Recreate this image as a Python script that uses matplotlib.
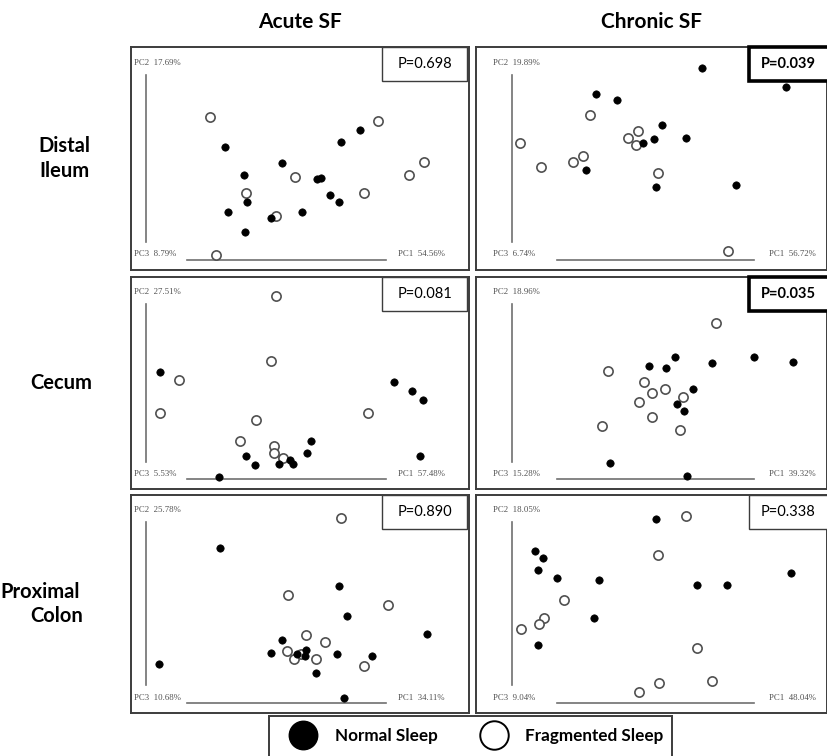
import numpy as np
import matplotlib
matplotlib.use('Agg')
import matplotlib.pyplot as plt
from matplotlib.patches import Rectangle
from matplotlib.lines import Line2D

# PCoA scores, in panel units (0-100 across / up)
# Acute SF - Distal Ileum
ai_norm_x = [27.9, 44.7, 62.1, 67.7, 33.4, 54.9, 56.3, 58.9, 61.6, 34.2, 28.8, 50.5, 41.5, 33.8]
ai_norm_y = [55.0, 48.2, 57.5, 62.9, 42.8, 40.7, 41.4, 33.5, 30.6, 30.5, 25.8, 25.8, 23.4, 17.1]
ai_frag_x = [23.4, 73.2, 86.7, 82.2, 48.4, 34.1, 69.0, 42.9, 25.1]
ai_frag_y = [68.8, 67.0, 48.5, 42.5, 41.6, 34.5, 34.4, 24.0, 6.8]
# Chronic SF - Distal Ileum
ci_norm_x = [64.5, 88.3, 34.2, 40.2, 53.1, 50.6, 47.5, 59.8, 31.3, 51.2, 74.2]
ci_norm_y = [90.7, 82.1, 78.7, 76.1, 65.2, 58.6, 56.9, 59.1, 44.9, 37.3, 38.0]
ci_frag_x = [32.5, 46.1, 43.3, 45.7, 12.5, 30.5, 27.5, 18.4, 51.8, 71.9]
ci_frag_y = [69.5, 62.3, 59.3, 55.9, 56.8, 51.0, 48.3, 46.3, 43.4, 8.7]
# Acute SF - Cecum
ac_norm_x = [8.7, 77.9, 83.0, 86.5, 85.6, 53.2, 52.1, 34.1, 36.8, 43.9, 47.1, 47.8, 26.1]
ac_norm_y = [55.1, 50.7, 46.2, 41.8, 15.6, 22.5, 17.0, 15.6, 11.3, 11.6, 13.5, 11.6, 5.8]
ac_frag_x = [42.8, 41.5, 14.1, 8.7, 36.9, 70.2, 32.3, 42.4, 42.3, 45.0]
ac_frag_y = [90.9, 60.6, 51.5, 35.8, 32.4, 35.8, 22.7, 20.2, 16.8, 14.7]
# Chronic SF - Cecum
cc_norm_x = [56.6, 49.3, 54.0, 67.3, 79.3, 90.4, 61.8, 57.3, 59.3, 38.2, 60.2]
cc_norm_y = [62.3, 58.1, 57.3, 59.6, 62.4, 59.8, 47.1, 39.9, 36.6, 12.5, 6.0]
cc_frag_x = [68.5, 37.6, 47.9, 50.1, 53.8, 59.0, 46.4, 50.2, 35.8, 58.1]
cc_frag_y = [78.1, 55.5, 50.7, 45.4, 47.1, 43.3, 41.0, 33.9, 29.6, 27.7]
# Acute SF - Proximal Colon
ap_norm_x = [26.2, 61.6, 64.0, 87.5, 44.6, 41.5, 51.7, 49.0, 51.5, 61.0, 71.4, 8.3, 54.8, 62.9]
ap_norm_y = [75.9, 58.1, 44.7, 36.1, 33.5, 27.7, 29.1, 27.1, 26.0, 26.9, 26.0, 22.7, 18.3, 6.8]
ap_frag_x = [62.2, 46.4, 75.9, 51.7, 57.5, 46.2, 50.3, 48.3, 54.8, 69.0]
ap_frag_y = [89.6, 54.0, 49.6, 35.9, 32.6, 28.3, 26.9, 24.7, 24.7, 21.5]
# Chronic SF - Proximal Colon
cp_norm_x = [51.2, 16.8, 19.1, 17.7, 23.0, 35.0, 63.0, 71.5, 89.7, 33.7, 17.6]
cp_norm_y = [88.9, 74.3, 70.9, 65.4, 62.0, 61.1, 58.6, 58.8, 64.2, 43.8, 31.1]
cp_frag_x = [59.8, 51.9, 25.1, 19.5, 18.0, 12.7, 63.0, 67.3, 52.1, 46.5]
cp_frag_y = [90.3, 72.5, 51.9, 43.7, 40.6, 38.4, 29.8, 14.7, 13.8, 9.6]

pc1_labels = ['54.56%', '56.72%', '57.48%', '39.32%', '34.11%', '48.04%']
pc2_labels = ['17.69%', '19.89%', '27.51%', '18.96%', '25.78%', '18.05%']
pc3_labels = ['8.79%', '6.74%', '5.53%', '15.28%', '10.68%', '9.04%']
p_values = ['0.698', '0.039', '0.081', '0.035', '0.890', '0.338']
col_titles = ['Acute SF', 'Chronic SF']
row_titles = [['Distal', 'Ileum'], ['Cecum'], ['Proximal', 'Colon']]
legend_labels = ['Normal Sleep', 'Fragmented Sleep']

panels = [(ai_norm_x, ai_norm_y, ai_frag_x, ai_frag_y),
          (ci_norm_x, ci_norm_y, ci_frag_x, ci_frag_y),
          (ac_norm_x, ac_norm_y, ac_frag_x, ac_frag_y),
          (cc_norm_x, cc_norm_y, cc_frag_x, cc_frag_y),
          (ap_norm_x, ap_norm_y, ap_frag_x, ap_frag_y),
          (cp_norm_x, cp_norm_y, cp_frag_x, cp_frag_y)]

W, H = 828, 756
fig = plt.figure(figsize=(W / 100, H / 100), dpi=100)
fig.patch.set_facecolor('white')

sans = ['Lato', 'DejaVu Sans']
serif = ['Liberation Serif', 'DejaVu Serif']
frame_col = '#3c3c3c'

# pixel boxes of the columns / rows
cols = [(131, 469), (476, 827)]
rows = [(47, 270), (277, 489), (495, 713)]

def px_axes(x0, x1, y0, y1):
    return fig.add_axes([x0 / W, 1 - y1 / H, (x1 - x0) / W, (y1 - y0) / H])

for i, (nx, ny, fx, fy) in enumerate(panels):
    r, c = divmod(i, 2)
    (x0, x1), (y0, y1) = cols[c], rows[r]
    ax = px_axes(x0, x1, y0, y1)
    ax.set_xlim(0, 100)
    ax.set_ylim(0, 100)
    ax.set_xticks([])
    ax.set_yticks([])
    for s in ax.spines.values():
        s.set_color(frame_col)
        s.set_linewidth(1.4)

    # axis guides
    vx = 0.044 if c == 0 else 0.102
    hx = (0.167, 0.754) if c == 0 else (0.232, 0.792)
    lx = 0.01 if c == 0 else 0.048
    rx = 0.79 if c == 0 else 0.835
    ax.plot([vx, vx], [0.127, 0.875], transform=ax.transAxes, color='#707070', lw=1.2)
    ax.plot(hx, [0.045, 0.045], transform=ax.transAxes, color='#707070', lw=1.2)
    ax.text(lx, 0.93, 'PC2  ' + pc2_labels[i], transform=ax.transAxes, family=serif,
            fontsize=6.3, color='#505050', va='center', ha='left')
    ax.text(lx, 0.07, 'PC3  ' + pc3_labels[i], transform=ax.transAxes, family=serif,
            fontsize=6.3, color='#505050', va='center', ha='left')
    ax.text(rx, 0.07, 'PC1  ' + pc1_labels[i], transform=ax.transAxes, family=serif,
            fontsize=6.3, color='#505050', va='center', ha='left')

    ax.scatter(fx, fy, s=44, facecolor='white', edgecolor='#505050', linewidth=1.2, zorder=3)
    ax.scatter(nx, ny, s=28, facecolor='black', edgecolor='black', linewidth=0.5, zorder=4)

    # P-value box
    sig = float(p_values[i]) < 0.05
    h = 34 / (y1 - y0)
    bx0, bx1 = (0.743, 0.994) if c == 0 else (0.778, 1.02)
    ax.add_patch(Rectangle((bx0, 1 - h), bx1 - bx0, h, transform=ax.transAxes,
                           facecolor='white', edgecolor='black' if sig else frame_col,
                           lw=2.6 if sig else 1.0, zorder=5, clip_on=False))
    ax.text((bx0 + min(bx1, 1.0)) / 2, 1 - h / 2, 'P=' + p_values[i], transform=ax.transAxes,
            family=sans, fontsize=10.5, fontweight='bold' if sig else 'normal',
            ha='center', va='center', zorder=6)

for c, t in enumerate(col_titles):
    fig.text((cols[c][0] + cols[c][1]) / 2 / W, 1 - 22 / H, t, family=sans,
             fontsize=15, fontweight='bold', ha='center', va='center')

# row titles, one text per line
row_line_x = [[64, 64], [61], [40, 57]]
for r, lines in enumerate(row_titles):
    yc = (rows[r][0] + rows[r][1]) / 2
    n = len(lines)
    for k, t in enumerate(lines):
        yy = yc + (k - (n - 1) / 2) * 25
        fig.text(row_line_x[r][k] / W, 1 - yy / H, t, family=sans,
                 fontsize=14.5, fontweight='bold', ha='center', va='center')

# legend box (runs off the bottom of the picture)
lax = px_axes(269, 672, 716, 770)
lax.set_xticks([])
lax.set_yticks([])
lax.spines['bottom'].set_visible(False)
for s in ['left', 'top', 'right']:
    lax.spines[s].set_color(frame_col)
    lax.spines[s].set_linewidth(1.4)
handles = [Line2D([], [], ls='', marker='o', ms=20.5, mfc='black', mec='black'),
           Line2D([], [], ls='', marker='o', ms=20.5, mfc='white', mec='black', mew=1.4)]
fig.legend(handles, legend_labels, ncol=2, frameon=False,
           loc='center left', bbox_to_anchor=(286 / W, 1 - 736 / H),
           borderpad=0, borderaxespad=0, handlelength=2.0, columnspacing=2.3,
           handletextpad=0.85, prop={'family': sans, 'weight': 'bold', 'size': 12.3})

fig.savefig('out.png', dpi=100)
